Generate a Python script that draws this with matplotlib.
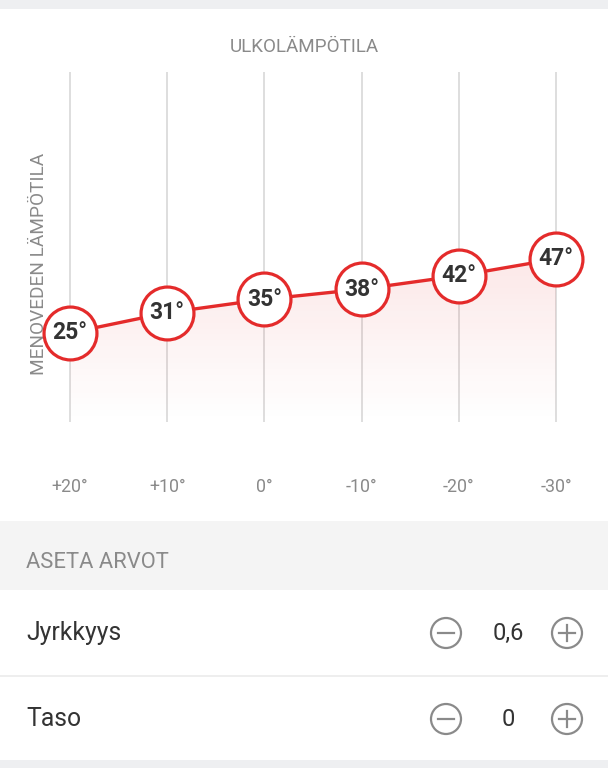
import numpy as np
import matplotlib
matplotlib.use("Agg")
import matplotlib.pyplot as plt
from matplotlib.patches import Rectangle, Circle, Polygon

plt.rcParams['font.family'] = ['Roboto', 'DejaVu Sans']

# ---- data ----
outdoor_labels = ["+20°", "+10°", "0°", "-10°", "-20°", "-30°"]
supply_temps = [25, 31, 35, 38, 42, 47]
title_text = "ULKOLÄMPÖTILA"
ylabel_text = "MENOVEDEN LÄMPÖTILA"
section_text = "ASETA ARVOT"
setting_names = ["Jyrkkyys", "Taso"]
setting_values = ["0,6", "0"]

W, H = 608, 768
fig = plt.figure(figsize=(W / 100, H / 100), dpi=100)
fig.patch.set_facecolor("white")

# background / UI layer in pixel coordinates
bg = fig.add_axes([0, 0, 1, 1], zorder=0)
bg.set_xlim(0, W)
bg.set_ylim(H, 0)
bg.axis("off")

GRAY_TXT = "#8a8a8a"
DARK_TXT = "#333333"
RED = "#e42b2b"

bg.add_patch(Rectangle((0, 0), W, 9, color="#eeeff1", lw=0))
bg.add_patch(Rectangle((0, 521), W, 69, color="#f4f4f4", lw=0))
bg.add_patch(Rectangle((0, 675), W, 2, color="#eeeeee", lw=0))
bg.add_patch(Rectangle((0, 760), W, 8, color="#eeeff1", lw=0))

bg.text(304, 47, title_text, ha="center", va="center", fontsize=13.6, color=GRAY_TXT)
bg.text(39, 264, ylabel_text, ha="center", va="center", rotation=90, fontsize=13.7, color=GRAY_TXT)
bg.text(26, 563, section_text, ha="left", va="center", fontsize=15.8, color=GRAY_TXT)

rows_y = [633, 719]
for name, val, ry in zip(setting_names, setting_values, rows_y):
    bg.text(26, ry, name, ha="left", va="center", fontsize=17.8, color=DARK_TXT)
    bg.text(508, ry, val, ha="center", va="center", fontsize=17, color=DARK_TXT)
    for cx in (446, 567):
        bg.add_patch(Circle((cx, ry), 15, fill=False, ec="#8a8a8a", lw=1.6))
        bg.plot([cx - 8, cx + 8], [ry, ry], color="#8a8a8a", lw=1.6)
    bg.plot([567, 567], [ry - 8, ry + 8], color="#8a8a8a", lw=1.6)

# chart axes: top pixel 72, bottom pixel 422
top_px, bot_px = 72, 422
ax = fig.add_axes([0, 1 - bot_px / H, 1, (bot_px - top_px) / H], zorder=1)
ax.patch.set_alpha(0)
x = np.arange(len(supply_temps))
px_per_unit = 97.2
x0_px = 70
ax.set_xlim(-x0_px / px_per_unit, (W - x0_px) / px_per_unit)
ax.set_ylim(-1.5, 102.6)
ax.axis("off")

for xi in x:
    ax.axvline(xi, color="#d8d8d8", lw=1.2, zorder=1)

# gradient fill under line
ymin = -1.5
verts = [(x[0], ymin)] + list(zip(x, supply_temps)) + [(x[-1], ymin)]
poly = Polygon(verts, closed=True, facecolor="none", edgecolor="none")
ax.add_patch(poly)
grad = np.linspace(0, 1, 256).reshape(-1, 1)
rgba = np.zeros((256, 1, 4))
rgba[..., 0] = 0.89
rgba[..., 1] = 0.17
rgba[..., 2] = 0.17
rgba[..., 3] = 0.11 * grad[:, :]
im = ax.imshow(rgba, extent=[x[0], x[-1], ymin, max(supply_temps)], origin="lower",
               aspect="auto", zorder=1.5)
im.set_clip_path(poly)

ax.plot(x, supply_temps, color=RED, lw=2.4, zorder=2)
ax.scatter(x, supply_temps, s=1450, facecolor="white", edgecolor=RED, linewidth=2.3, zorder=3)
for xi, t in zip(x, supply_temps):
    ax.text(xi, t, f"{t}°", ha="center", va="center", fontsize=16.5, fontweight="bold",
            color=DARK_TXT, zorder=4)

# tick labels
for xi, lab in zip(x, outdoor_labels):
    ax.annotate(lab, xy=(xi, 0), xycoords=("data", "axes fraction"), xytext=(0, -65 * 0.72),
                textcoords="offset points", ha="center", va="center", fontsize=12.8, color=GRAY_TXT)

fig.savefig("out.png", dpi=100, facecolor="white")
